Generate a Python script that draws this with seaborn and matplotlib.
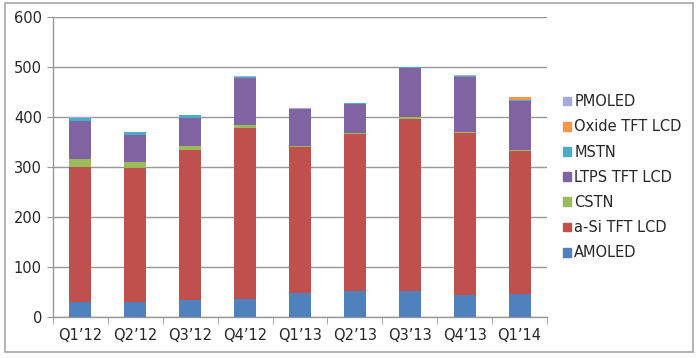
import matplotlib
matplotlib.use("Agg")
import matplotlib.pyplot as plt
import matplotlib.patches as mpatches
import seaborn as sns
import pandas as pd
import numpy as np

quarters = ["Q1\u201912", "Q2\u201912", "Q3\u201912", "Q4\u201912", "Q1\u201913",
            "Q2\u201913", "Q3\u201913", "Q4\u201913", "Q1\u201914"]
AMOLED = [30, 30, 35, 37, 48, 53, 53, 44, 46]
aSi = [270, 269, 299, 341, 292, 314, 344, 325, 287]
CSTN = [17, 11, 9, 6, 3, 2, 3, 2, 1]
LTPS = [76, 55, 56, 95, 73, 58, 99, 110, 99]
MSTN = [6, 5, 5, 2, 1, 1, 1, 1, 1]
Oxide = [0, 0, 0, 0, 0, 0, 0, 1, 6]
PMOLED = [1, 1, 1, 1, 1, 1, 1, 1, 1]

series_names = ["AMOLED", "a-Si TFT LCD", "CSTN", "LTPS TFT LCD", "MSTN", "Oxide TFT LCD", "PMOLED"]
series_vals = [AMOLED, aSi, CSTN, LTPS, MSTN, Oxide, PMOLED]
colors = ["#4F81BD", "#C0504D", "#9BBB59", "#8064A2", "#4BACC6", "#F79646", "#A3AADB"]

sns.set_style("white")
plt.rcParams["font.family"] = ["DejaVu Sans"]

fig = plt.figure(figsize=(6.99, 3.58), dpi=100)
ax = fig.add_axes([53/699, 1-317/358, (547-53)/699, (317-17)/358])

cum = np.cumsum(np.array(series_vals), axis=0)
# draw from top layer to bottom so lower layers cover upper ones
for i in range(len(series_names) - 1, -1, -1):
    df = pd.DataFrame({"q": quarters, "v": cum[i]})
    sns.barplot(data=df, x="q", y="v", color=colors[i], width=0.4,
                saturation=1, ax=ax, zorder=3, linewidth=0)

ax.set_ylim(0, 600)
ax.set_xlim(-0.5, len(quarters) - 0.5)
ax.set_yticks(range(0, 601, 100))
ax.set_xlabel("")
ax.set_ylabel("")
ax.yaxis.grid(True, color="#979797", linewidth=1.0, zorder=0)
ax.set_axisbelow(True)

for s in ["top", "right"]:
    ax.spines[s].set_visible(False)
for s in ["left", "bottom"]:
    ax.spines[s].set_color("#979797")
    ax.spines[s].set_linewidth(1.0)

ax.tick_params(axis="y", which="both", length=4, color="#979797", labelsize=10.5, pad=4, left=True)
ax.set_xticks(range(len(quarters)))
ax.set_xticklabels(quarters)
ax.tick_params(axis="x", which="major", length=0, labelsize=10.5, pad=8)
ax.set_xticks(np.arange(-0.5, len(quarters), 1.0), minor=True)
ax.tick_params(axis="x", which="minor", length=5, color="#979797", bottom=True)

handles = [mpatches.Patch(color=colors[i], label=series_names[i]) for i in range(len(series_names))][::-1]
fig.legend(handles=handles, loc="center left", bbox_to_anchor=(0.805, 0.505),
           bbox_transform=fig.transFigure, frameon=False, fontsize=10.5,
           handlelength=0.55, handleheight=0.55, handletextpad=0.25,
           labelspacing=0.7, borderaxespad=0, borderpad=0)

# outer border
border = mpatches.Rectangle((5/699, 1-352/358), 688/699, 349/358, transform=fig.transFigure,
                            fill=False, edgecolor="#A6A6A6", linewidth=1.2)
fig.patches.append(border)

fig.savefig("out.png", dpi=100)
